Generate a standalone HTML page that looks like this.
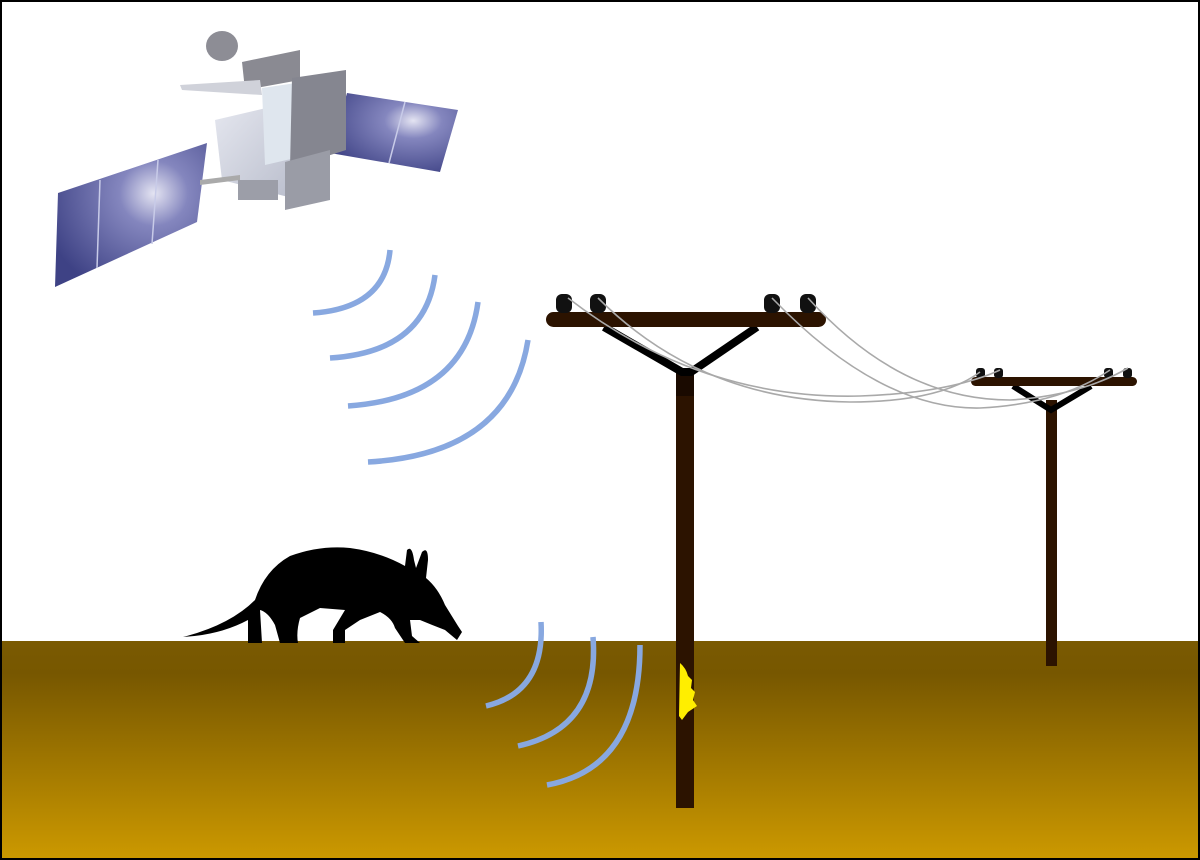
<!DOCTYPE html>
<html><head><meta charset="utf-8"><style>
html,body{margin:0;padding:0;background:#fff;}
svg{display:block;}
</style></head><body>
<svg width="1200" height="860" viewBox="0 0 1200 860" xmlns="http://www.w3.org/2000/svg">
<defs>
<linearGradient id="g" x1="0" y1="0" x2="0" y2="1">
<stop offset="0" stop-color="#7a5a02"/><stop offset="0.15" stop-color="#775700"/><stop offset="1" stop-color="#cc9900"/>
</linearGradient>
<radialGradient id="pan" cx="0.65" cy="0.35" r="0.75">
<stop offset="0" stop-color="#e4e4f2"/><stop offset="0.3" stop-color="#8486be"/><stop offset="1" stop-color="#3e4285"/>
</radialGradient>
<linearGradient id="box" x1="0" y1="0" x2="1" y2="1">
<stop offset="0" stop-color="#e6e8f0"/><stop offset="1" stop-color="#b8bccb"/>
</linearGradient>
</defs>
<rect x="0" y="0" width="1200" height="860" fill="#fff"/>
<rect x="1" y="641" width="1198" height="218" fill="url(#g)"/>
<rect x="1" y="1" width="1198" height="858" fill="none" stroke="#000" stroke-width="2"/>

<!-- satellite -->
<polygon points="58,193 207,143 197,222 55,287" fill="url(#pan)"/>
<line x1="100" y1="180" x2="97" y2="268" stroke="#c8cbe8" stroke-width="1.5"/>
<line x1="158" y1="160" x2="152" y2="244" stroke="#c8cbe8" stroke-width="1.5"/>
<polygon points="347,93 458,110 440,172 330,153" fill="url(#pan)"/>
<line x1="405" y1="102" x2="389" y2="163" stroke="#c8cbe8" stroke-width="1.5"/>
<polygon points="242,62 300,50 300,80 245,90" fill="#8a8a92"/>
<ellipse cx="222" cy="46" rx="16" ry="15" fill="#8d8d95"/>
<polygon points="180,85 260,80 262,95 182,90" fill="#d0d2da"/>
<polygon points="215,120 300,100 300,200 222,180" fill="url(#box)"/>
<polygon points="262,88 330,78 330,150 265,165" fill="#dfe6ee"/>
<polygon points="292,78 346,70 346,150 290,168" fill="#858690"/>
<polygon points="285,162 330,150 330,200 285,210" fill="#9a9ca6"/>
<rect x="238" y="180" width="40" height="20" fill="#9c9ea8"/>
<polygon points="200,180 240,175 240,180 200,185" fill="#aaa"/>

<!-- waves -->
<g fill="none" stroke="#88a8e0" stroke-width="5.5">
<path d="M390,250 Q385,308 313,313"/>
<path d="M435,275 Q425,352 330,358"/>
<path d="M478,302 Q465,398 348,406"/>
<path d="M528,340 Q510,454 368,462"/>
<path d="M541,622 Q545,692 486,706"/>
<path d="M593,637 Q600,728 518,746"/>
<path d="M640,645 Q640,768 547,785"/>
</g>

<!-- aardvark -->
<path d="M183,637 Q230,625 255,600 Q265,570 290,556 Q320,545 350,548 Q380,552 405,566 L407,550 Q412,545 414,560 L416,568 L422,552 Q428,546 428,560 L426,578 Q438,588 445,605 L458,626 L462,632 L457,640 L445,630 Q432,625 420,620 L410,620 L412,636 L420,643 L405,643 L395,628 Q392,618 380,612 L360,620 L345,630 L345,643 L333,643 L333,630 L345,610 L320,608 L300,618 Q296,632 298,643 L280,643 L275,625 Q268,612 260,610 L262,643 L248,643 L248,620 Q220,635 183,637 Z" fill="#000"/>

<!-- pole 2 -->
<rect x="1046" y="400" width="11" height="266" fill="#2c1300"/>
<path d="M1013,386 L1051,410 L1091,386" fill="none" stroke="#000" stroke-width="6"/>
<rect x="971" y="377" width="166" height="9" rx="4.5" fill="#2c1300"/>
<g fill="#111"><rect x="976" y="368" width="9" height="10" rx="3"/><rect x="994" y="368" width="9" height="10" rx="3"/><rect x="1104" y="368" width="9" height="10" rx="3"/><rect x="1123" y="368" width="9" height="10" rx="3"/></g>

<!-- pole 1 -->
<rect x="676" y="372" width="18" height="436" fill="#2c1300"/>
<rect x="676" y="372" width="18" height="24" fill="#1a0a00"/>
<path d="M604,327 L682,372 L691,372 L757,327" fill="none" stroke="#000" stroke-width="8"/>
<rect x="546" y="312" width="280" height="15" rx="7.5" fill="#2c1300"/>
<g fill="#111"><rect x="556" y="294" width="16" height="19" rx="6"/><rect x="590" y="294" width="16" height="19" rx="6"/><rect x="764" y="294" width="16" height="19" rx="6"/><rect x="800" y="294" width="16" height="19" rx="6"/></g>
<path d="M680,663 Q686,668 688,676 L692,680 L691,688 L695,692 L693,700 L697,706 L688,712 L682,720 L679,716 Z" fill="#ffee00"/>

<!-- wires -->
<g fill="none" stroke="#a9a9a9" stroke-width="1.6">
<path d="M568,298 Q700,400 860,396 Q950,393 1000,370"/>
<path d="M598,298 Q700,400 850,402 Q940,402 980,372"/>
<path d="M772,298 Q880,410 980,408 Q1060,404 1110,370"/>
<path d="M808,298 Q900,400 1010,400 Q1080,396 1128,368"/>
</g>
</svg>
</body></html>
